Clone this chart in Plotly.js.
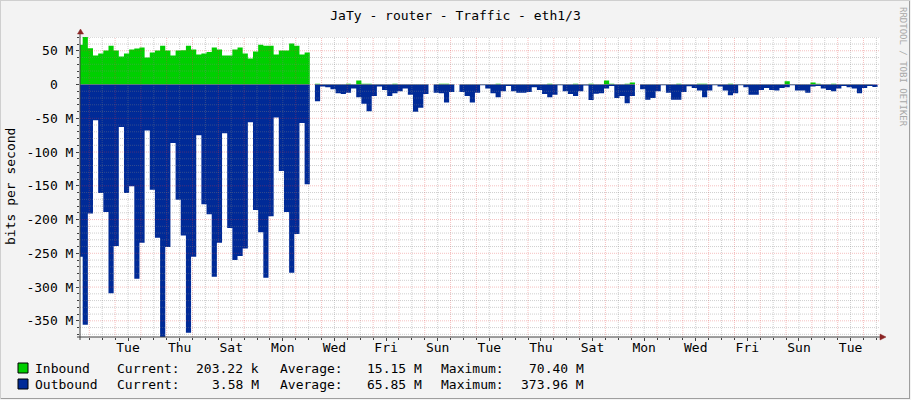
<!DOCTYPE html>
<html>
<head>
<meta charset="utf-8">
<script src="https://cdn.plot.ly/plotly-3.0.1.min.js"></script>
<style>
  html, body { margin: 0; padding: 0; background: #F3F3F3; }
  #chart { width: 911px; height: 400px; }
</style>
</head>
<body>
<div id="chart"></div>
<script>
// ---------------- data ----------------
const TITLE = 'JaTy - router - Traffic - eth1/3';
const Y_TITLE = 'bits per second';
const WATERMARK = 'RRDTOOL / TOBI OETIKER';
const SERIES_NAMES = ['Inbound', 'Outbound'];

// time axis in days from the left edge of the graph; one RRA row = 0.2 day
const STEP_DAYS = 0.2;
const FIRST_STEP_START = -0.096;
const X_RANGE = [0, 31];
const FIRST_MIDNIGHT = 0.36;
const FIRST_LABEL_NOON = 1.86;
const DAY_LABELS = ['Tue', 'Thu', 'Sat', 'Mon', 'Wed', 'Fri', 'Sun', 'Tue', 'Thu', 'Sat', 'Mon', 'Wed', 'Fri', 'Sun', 'Tue'];

const Y_RANGE = [-373.96, 70.4];
const Y_TICK_VALUES = [50, 0, -50, -100, -150, -200, -250, -300, -350];
const Y_TICK_LABELS = ['50 M', '0\u00A0\u00A0', '-50 M', '-100 M', '-150 M', '-200 M', '-250 M', '-300 M', '-350 M'];

// Inbound, Mbit/s per 4.8 h row
const inbound = [
  59, 70.4, 53.7, 42.9, 45.8, 50.3, 57.6, 50.3, 41.4, 45.8,
  51.7, 53.2, 54.7, 39.9, 47.3, 50.3, 57.6, 50.3, 42.9, 50.3,
  50.7, 57.6, 51.7, 44.3, 45.8, 48.3, 54.7, 51.7, 42.9, 42.9,
  51.7, 54.7, 45.8, 38.4, 48.8, 59.1, 57.6, 57.6, 44.3, 50.3,
  50.3, 60.6, 57.6, 44.3, 47.3,
  null, 1, 0.3, 0.3, 0.3, 0.3, 0.3, 1, 0.3, 6,
  1, 1, 0.3, 0.3, 0.3, 0.3, 1, 0.3, 0.3, 0.3,
  0.3, 0.3, 0.3, null, 0.3, 1, 1, 0.3, null, 0.3,
  0.3, 0.3, 0.3, 0.3, 0.3, 0.3, 1.2, 0.3, 0.3, 0.3,
  0.3, 0.3, 0.3, 0.3, 0.3, 0.3, 1.2, 0.3, 0.3, 0.3,
  0.3, 1.2, 0.3, 0.3, 1.2, 0.3, 0.3, 6, 1, 0.3,
  0.3, 1, 3, null, 0.3, 0.3, 0.3, 0.3, 0.3, 0.3,
  0.3, 1.2, 0.3, 0.3, 0.3, 1.2, 1.2, 0.3, 0.3, 0.3,
  0.3, 1.2, 0.3, 0.3, 0.3, 0.3, 0.3, 0.3, 0.3, 0.3,
  0.3, 0.3, 5, 0.3, 0.3, 0.3, 0.3, 3, 1, 0.3,
  0.3, 1.2, 0.3, 0.3, 0.3, 0.3, 0.3, 0.3, 0.3, 0.2
];

// Outbound, Mbit/s per row (drawn below zero)
const outbound = [
  255, 356, 191, 53, 160.6, 188.8, 309, 239, 63, 160.6,
  150.8, 287.7, 234.5, 68, 155.8, 227, 373.96, 240.5, 86.7, 170.5,
  223.7, 367.6, 255, 75, 177.4, 192, 284.8, 234.5, 72, 212.4,
  260, 254, 243, 56, 186, 218.8, 286.3, 195, 48.8, 128,
  188.8, 278.8, 221.3, 57, 147.8,
  null, 24.6, 3, 4, 7, 13, 14, 12, 6, 19,
  28.5, 39.4, 17, 3, 8, 17, 13, 10, 6, 15,
  40.4, 34.5, 14, null, 12, 13, 26.6, 11, null, 11,
  17, 26.6, 12, 1, 6, 13, 19, 10, 2, 10,
  12, 12, 11, 4, 8, 14, 19, 15, 1, 10,
  14, 17, 10, 1.5, 23, 13.5, 13, 6, 2, 20,
  17, 27.6, 17, null, 7, 22.7, 20, 10, 1, 12,
  22.7, 22.7, 11, 2.5, 5, 9, 19, 9, 1, 3,
  9, 16, 13, 1, 4, 15, 15, 8, 5, 8,
  9, 5, 4, 1, 9, 9, 12, 3, 2, 6,
  8, 10, 6, 2, 4, 6, 13, 5, 2, 3.58
];

const LEGEND_CURRENT = ['203.22 k', '3.58 M'];
const LEGEND_AVERAGE = ['15.15 M', '65.85 M'];
const LEGEND_MAXIMUM = ['70.40 M', '373.96 M'];

// ---------------- styling ----------------
const COLORS = ['#00CF00', '#002A97'];
const FONT = 'DejaVu Sans Mono, monospace';
const FS = 13;
const PLOT_L = 80, PLOT_R = 880, PLOT_T = 37, PLOT_B = 337;
const px = X => (X - PLOT_L) / (PLOT_R - PLOT_L);
const py = Y => (PLOT_B - Y) / (PLOT_B - PLOT_T);

// step-area outline from the regular rows (each row holds its value for STEP_DAYS);
// unknown rows are drawn as empty (outline runs along zero there)
function stepOutline(vals, sign) {
  const xs = [], ys = [];
  vals.forEach((v, i) => {
    const t = FIRST_STEP_START + i * STEP_DAYS;
    xs.push(t);
    ys.push(v == null ? 0 : sign * v);
    if (i === vals.length - 1) { xs.push(t + STEP_DAYS); ys.push(v == null ? 0 : sign * v); }
  });
  return { xs, ys };
}
const inLine = stepOutline(inbound, 1);
const outLine = stepOutline(outbound, -1);
const labelPos = DAY_LABELS.map((_, k) => FIRST_LABEL_NOON + 2 * k);

const traces = [
  {
    type: 'scatter', mode: 'lines', name: SERIES_NAMES[0], x: inLine.xs, y: inLine.ys,
    line: { shape: 'hv', width: 0, color: COLORS[0] }, fill: 'tozeroy', fillcolor: COLORS[0],
    hoverinfo: 'skip'
  },
  {
    type: 'scatter', mode: 'lines', name: SERIES_NAMES[1], x: outLine.xs, y: outLine.ys,
    line: { shape: 'hv', width: 0, color: COLORS[1] }, fill: 'tozeroy', fillcolor: COLORS[1],
    hoverinfo: 'skip'
  }
];

const shapes = [];
const MINOR_GRID = 'rgba(128,128,128,0.38)';
const MAJOR_GRID = 'rgba(225,60,60,0.32)';
// vertical grid: every 12 h, major at midnight
for (let k = -2; ; k++) {
  const d = FIRST_MIDNIGHT + 0.5 * k;
  if (d > X_RANGE[1]) break;
  if (d < X_RANGE[0]) continue;
  const major = (k % 2 === 0);
  shapes.push({
    type: 'line', xref: 'x', yref: 'paper', x0: d, x1: d, y0: 0, y1: 1, layer: 'above',
    line: { color: major ? MAJOR_GRID : MINOR_GRID, width: 1, dash: '1px,1px' }
  });
}
// horizontal grid: every 10 M, major every 50 M
for (let v = -370; v <= 70; v += 10) {
  const major = (v % 50 === 0);
  shapes.push({
    type: 'line', xref: 'paper', yref: 'y', x0: 0, x1: 1, y0: v, y1: v, layer: 'above',
    line: { color: major ? MAJOR_GRID : MINOR_GRID, width: 1, dash: '1px,1px' }
  });
}
// axes with arrows
const AXIS_COL = '#404040';
const ARROW_COL = '#8B2525';
shapes.push({ type: 'line', xref: 'paper', yref: 'paper', x0: px(80), x1: px(80), y0: py(340), y1: py(32), layer: 'above', line: { color: AXIS_COL, width: 1 } });
shapes.push({ type: 'line', xref: 'paper', yref: 'paper', x0: px(77), x1: px(883), y0: py(337), y1: py(337), layer: 'above', line: { color: AXIS_COL, width: 1 } });
shapes.push({ type: 'path', xref: 'paper', yref: 'paper', layer: 'above',
  path: `M ${px(77.5)} ${py(34)} L ${px(83.5)} ${py(34)} L ${px(80.5)} ${py(29)} Z`,
  fillcolor: ARROW_COL, line: { color: ARROW_COL, width: 0.5 } });
shapes.push({ type: 'path', xref: 'paper', yref: 'paper', layer: 'above',
  path: `M ${px(880)} ${py(334)} L ${px(880)} ${py(340)} L ${px(886)} ${py(337)} Z`,
  fillcolor: ARROW_COL, line: { color: ARROW_COL, width: 0.5 } });
// legend boxes
[[363, 373], [379, 389]].forEach((yy, i) => {
  shapes.push({ type: 'rect', xref: 'paper', yref: 'paper', layer: 'above',
    x0: px(18), x1: px(28), y0: py(yy[1]), y1: py(yy[0]),
    fillcolor: COLORS[i], line: { color: '#000000', width: 1 } });
});
// image frame
shapes.push({ type: 'line', xref: 'paper', yref: 'paper', x0: px(909.5), x1: px(909.5), y0: py(0), y1: py(399), layer: 'above', line: { color: '#9E9E9E', width: 1 } });
shapes.push({ type: 'line', xref: 'paper', yref: 'paper', x0: px(0), x1: px(910), y0: py(398.5), y1: py(398.5), layer: 'above', line: { color: '#9E9E9E', width: 1 } });
shapes.push({ type: 'line', xref: 'paper', yref: 'paper', x0: px(0.5), x1: px(0.5), y0: py(0), y1: py(399), layer: 'above', line: { color: '#CFCFCF', width: 1 } });
shapes.push({ type: 'line', xref: 'paper', yref: 'paper', x0: px(0), x1: px(910), y0: py(0.5), y1: py(0.5), layer: 'above', line: { color: '#CFCFCF', width: 1 } });

const ann = [];
const txt = (text, X, Y, anchor, extra) => Object.assign({
  text, xref: 'paper', yref: 'paper', x: px(X), y: py(Y), xanchor: anchor, yanchor: 'middle',
  showarrow: false, font: { family: FONT, size: FS, color: '#000000' }, borderpad: 0
}, extra || {});

ann.push(txt(Y_TITLE, 10, (PLOT_T + PLOT_B) / 2, 'center', { textangle: -90 }));
ann.push(txt(WATERMARK, 903, 67, 'center', { textangle: 90, font: { family: FONT, size: 9, color: '#A8A8A8' } }));
[368, 384].forEach((Y, i) => {
  ann.push(txt(SERIES_NAMES[i], 34, Y, 'left'));
  ann.push(txt('Current:', 116, Y, 'left'));
  ann.push(txt(LEGEND_CURRENT[i], 260, Y, 'right'));
  ann.push(txt('Average:', 279, Y, 'left'));
  ann.push(txt(LEGEND_AVERAGE[i], 423, Y, 'right'));
  ann.push(txt('Maximum:', 440, Y, 'left'));
  ann.push(txt(LEGEND_MAXIMUM[i], 585, Y, 'right'));
});

const layout = {
  width: 911, height: 400,
  paper_bgcolor: '#F3F3F3', plot_bgcolor: '#FFFFFF',
  margin: { l: PLOT_L, r: 911 - PLOT_R, t: PLOT_T, b: 400 - PLOT_B, pad: 0 },
  showlegend: false,
  font: { family: FONT, size: FS, color: '#000000' },
  title: { text: TITLE, x: 0.5, xref: 'container', xanchor: 'center', y: 1 - 15 / 400, yref: 'container', yanchor: 'middle',
           font: { family: FONT, size: FS, color: '#000000' } },
  xaxis: {
    type: 'linear', range: X_RANGE, fixedrange: true,
    tickmode: 'array', tickvals: labelPos, ticktext: DAY_LABELS,
    showgrid: false, zeroline: false, showline: false,
    ticks: 'outside', ticklen: 3, tickcolor: AXIS_COL, tickwidth: 1, ticklabelstandoff: -5,
    minor: { tickmode: 'linear', tick0: FIRST_MIDNIGHT, dtick: 0.5, ticks: 'outside', ticklen: 2, tickcolor: AXIS_COL, showgrid: false },
    tickfont: { family: FONT, size: FS, color: '#000000' }
  },
  yaxis: {
    type: 'linear', range: Y_RANGE, fixedrange: true,
    tickmode: 'array', tickvals: Y_TICK_VALUES, ticktext: Y_TICK_LABELS,
    showgrid: false, zeroline: false, showline: false,
    ticks: 'outside', ticklen: 3, tickcolor: AXIS_COL, tickwidth: 1,
    minor: { tickmode: 'linear', tick0: 0, dtick: 10, ticks: 'outside', ticklen: 2, tickcolor: AXIS_COL, showgrid: false },
    tickfont: { family: FONT, size: FS, color: '#000000' }
  },
  shapes: shapes,
  annotations: ann
};

Plotly.newPlot('chart', traces, layout, { staticPlot: true, displayModeBar: false });
</script>
</body>
</html>
